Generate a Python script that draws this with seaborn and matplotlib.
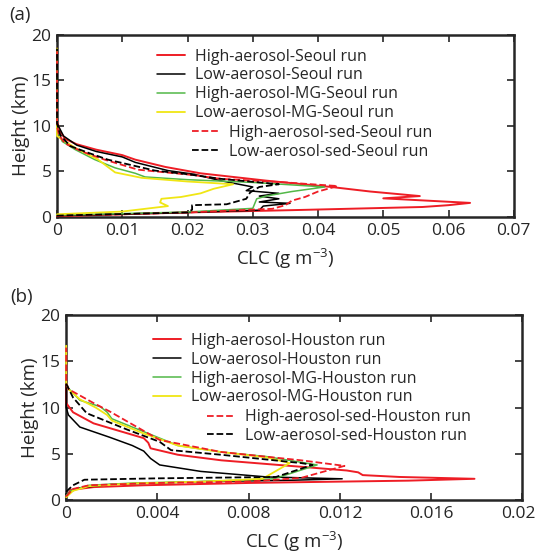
import matplotlib

matplotlib.use("Agg")
import matplotlib.pyplot as plt
import matplotlib.transforms as mtransforms
import seaborn as sns

# Panel (a): Seoul runs, CLC (g m-3) versus height (km)
SEOUL_HIGH_H = [0.1, 0.5, 0.77, 1.1, 1.3, 1.55, 2.05, 2.3, 2.8, 3.3, 4.0, 4.8, 5.5, 6.3, 6.8, 7.4, 8.0, 8.6, 9.5, 10.5, 18.5]
SEOUL_HIGH_CLC = [0.0, 0.020, 0.037, 0.056, 0.060, 0.0633, 0.050, 0.0556, 0.048, 0.042, 0.032, 0.022, 0.0166, 0.012, 0.010, 0.006, 0.003, 0.0012, 0.0004, 0.0, 0.0]

SEOUL_LOW_H = [0.15, 0.5, 0.75, 1.2, 1.5, 1.65, 2.0, 2.3, 2.6, 2.9, 3.3, 4.0, 4.7, 5.1, 6.0, 6.6, 7.2, 7.9, 8.9, 10.3, 18.5]
SEOUL_LOW_CLC = [0.0, 0.020, 0.031, 0.0316, 0.0357, 0.031, 0.034, 0.031, 0.034, 0.029, 0.030, 0.025, 0.021, 0.017, 0.012, 0.010, 0.006, 0.003, 0.001, 0.0, 0.0]

SEOUL_HIGH_MG_H = [0.2, 0.55, 0.95, 2.0, 2.3, 2.8, 3.3, 3.8, 4.1, 4.4, 4.8, 5.4, 6.3, 7.4, 8.3, 9.3, 10.0, 18.5]
SEOUL_HIGH_MG_CLC = [0.0, 0.020, 0.030, 0.0306, 0.032, 0.036, 0.041, 0.030, 0.020, 0.0135, 0.012, 0.0089, 0.0058, 0.0028, 0.0008, 0.0002, 0.0, 0.0]

SEOUL_LOW_MG_H = [0.3, 0.6, 1.2, 1.6, 2.0, 2.2, 2.6, 3.1, 3.6, 3.9, 4.3, 4.9, 6.3, 7.6, 8.5, 8.9, 18.5]
SEOUL_LOW_MG_CLC = [0.0, 0.010, 0.017, 0.0158, 0.016, 0.019, 0.022, 0.024, 0.027, 0.020, 0.013, 0.0089, 0.0063, 0.0028, 0.0008, 0.0, 0.0]

SEOUL_HIGH_SED_H = [0.1, 0.5, 0.9, 1.3, 1.8, 2.2, 2.8, 3.4, 3.8, 4.2, 4.6, 5.2, 6.3, 7.2, 8.1, 9.0, 10.0, 18.5]
SEOUL_HIGH_SED_CLC = [0.0, 0.020, 0.033, 0.035, 0.036, 0.038, 0.040, 0.043, 0.035, 0.025, 0.021, 0.0124, 0.0073, 0.0038, 0.0012, 0.0003, 0.0, 0.0]

SEOUL_LOW_SED_H = [0.15, 0.5, 0.8, 1.3, 1.4, 2.0, 2.7, 3.3, 3.6, 4.2, 4.7, 5.1, 5.6, 6.3, 7.0, 7.8, 9.0, 10.3, 18.5]
SEOUL_LOW_SED_CLC = [0.0, 0.020, 0.0207, 0.0207, 0.026, 0.029, 0.0296, 0.031, 0.034, 0.025, 0.020, 0.015, 0.012, 0.0078, 0.005, 0.002, 0.0005, 0.0, 0.0]

# Panel (b): Houston runs
HOUSTON_HIGH_H = [0.4, 1.1, 1.4, 1.6, 1.85, 1.95, 2.1, 2.3, 2.5, 2.7, 3.0, 3.2, 3.6, 4.3, 4.9, 5.6, 6.2, 6.7, 8.3, 9.5, 10.5, 16.0]
HOUSTON_HIGH_CLC = [0.0, 0.0002, 0.0012, 0.0034, 0.008, 0.0107, 0.015, 0.0179, 0.0146, 0.013, 0.0128, 0.0123, 0.0103, 0.0068, 0.0049, 0.0037, 0.0036, 0.0034, 0.0012, 0.0003, 0.0, 0.0]

HOUSTON_LOW_H = [0.6, 1.3, 1.7, 2.0, 2.15, 2.3, 2.5, 3.1, 3.8, 4.5, 5.3, 5.9, 6.8, 7.9, 9.2, 10.0, 15.0]
HOUSTON_LOW_CLC = [0.0, 0.0005, 0.002, 0.006, 0.010, 0.0121, 0.0088, 0.0059, 0.0041, 0.0037, 0.0034, 0.0029, 0.0019, 0.0006, 0.0001, 0.0, 0.0]

HOUSTON_HIGH_MG_H = [0.5, 1.0, 1.6, 1.85, 2.0, 2.3, 3.8, 4.7, 5.2, 5.9, 7.4, 8.8, 9.5, 10.1, 10.8, 12.1, 12.7, 16.0]
HOUSTON_HIGH_MG_CLC = [0.0, 0.0002, 0.001, 0.003, 0.006, 0.0091, 0.011, 0.0088, 0.0068, 0.0049, 0.0034, 0.002, 0.0018, 0.0015, 0.0006, 0.0001, 0.0, 0.0]

HOUSTON_LOW_MG_H = [0.3, 1.0, 1.5, 1.8, 2.0, 2.3, 4.0, 4.6, 5.2, 5.9, 7.2, 8.6, 9.2, 10.0, 10.9, 12.0, 12.7, 16.7]
HOUSTON_LOW_MG_CLC = [0.0, 0.0003, 0.001, 0.003, 0.006, 0.0086, 0.0098, 0.0088, 0.0068, 0.0049, 0.0034, 0.002, 0.0018, 0.0013, 0.0006, 0.0001, 0.0, 0.0]

HOUSTON_HIGH_SED_H = [0.4, 1.2, 1.6, 1.85, 2.0, 2.4, 3.7, 4.3, 5.2, 6.5, 9.6, 10.5, 12.0, 12.7, 16.5]
HOUSTON_HIGH_SED_CLC = [0.0, 0.0003, 0.001, 0.004, 0.008, 0.0103, 0.0122, 0.0103, 0.0068, 0.0041, 0.0019, 0.0012, 0.0001, 0.0, 0.0]

HOUSTON_LOW_SED_H = [0.9, 1.6, 2.2, 2.35, 2.5, 3.8, 4.0, 4.9, 5.4, 6.3, 7.6, 8.8, 9.4, 11.1, 12.6]
HOUSTON_LOW_SED_CLC = [0.0, 0.0003, 0.0008, 0.004, 0.0092, 0.0108, 0.0103, 0.0068, 0.0046, 0.0041, 0.0027, 0.0015, 0.0009, 0.0003, 0.0]

RUN_KINDS = ["High-aerosol", "Low-aerosol", "High-aerosol-MG", "Low-aerosol-MG", "High-aerosol-sed", "Low-aerosol-sed"]

RED = "#ee1d25"
GREEN = "#52b848"
YELLOW = "#f0e614"
STYLES = [
    (RED, "-", 1.4),
    ("black", "-", 1.1),
    (GREEN, "-", 1.1),
    (YELLOW, "-", 1.3),
    (RED, "--", 1.3),
    ("black", "--", 1.3),
]

sns.set_style("ticks")
plt.rcParams["font.family"] = ["Open Sans", "DejaVu Sans"]
plt.rcParams["mathtext.fontset"] = "custom"
plt.rcParams["mathtext.rm"] = "Open Sans"
plt.rcParams["mathtext.default"] = "rm"
plt.rcParams["axes.linewidth"] = 1.8


def draw_panel(ax, profiles, city, xmax, xticks, xticklabels, leg1_anchor, leg2_anchor):
    for (heights, clc), kind, (color, ls, lw) in zip(profiles, RUN_KINDS, STYLES):
        sns.lineplot(
            x=clc,
            y=heights,
            orient="y",
            estimator=None,
            color=color,
            linestyle=ls,
            linewidth=lw,
            label=f"{kind}-{city} run",
            zorder=3,
            clip_on=False,
            ax=ax,
        )
    if ax.get_legend() is not None:
        ax.get_legend().remove()

    ax.set_xlim(0, xmax)
    ax.set_ylim(0, 20)
    ax.set_xticks(xticks)
    ax.set_xticklabels(xticklabels)
    ax.set_yticks([0, 5, 10, 15, 20])
    ax.tick_params(
        axis="both", direction="in", top=True, right=True,
        length=5, width=1.2, labelsize=12.5, pad=4,
    )
    for spine in ax.spines.values():
        spine.set_visible(True)
        spine.set_linewidth(1.8)
    ax.set_xlabel("CLC (g m$^{-3}$)", fontsize=13.5, labelpad=6)
    ax.set_ylabel("Height (km)", fontsize=13.5, labelpad=1)

    handles, labels = ax.get_legend_handles_labels()
    legend_kw = dict(
        frameon=False, fontsize=11.5, handlelength=1.75, handletextpad=0.6,
        labelspacing=0.18, borderpad=0, borderaxespad=0, loc="upper left",
    )
    first = ax.legend(handles[:4], labels[:4], bbox_to_anchor=leg1_anchor, **legend_kw)
    ax.add_artist(first)
    ax.legend(handles[4:], labels[4:], bbox_to_anchor=leg2_anchor, **legend_kw)


fig = plt.figure(figsize=(5.38, 5.55), dpi=100)
ax_a = fig.add_axes([0.106, 0.609, 0.849, 0.328])
ax_b = fig.add_axes([0.123, 0.099, 0.848, 0.333])

seoul = [
    (SEOUL_HIGH_H, SEOUL_HIGH_CLC),
    (SEOUL_LOW_H, SEOUL_LOW_CLC),
    (SEOUL_HIGH_MG_H, SEOUL_HIGH_MG_CLC),
    (SEOUL_LOW_MG_H, SEOUL_LOW_MG_CLC),
    (SEOUL_HIGH_SED_H, SEOUL_HIGH_SED_CLC),
    (SEOUL_LOW_SED_H, SEOUL_LOW_SED_CLC),
]
houston = [
    (HOUSTON_HIGH_H, HOUSTON_HIGH_CLC),
    (HOUSTON_LOW_H, HOUSTON_LOW_CLC),
    (HOUSTON_HIGH_MG_H, HOUSTON_HIGH_MG_CLC),
    (HOUSTON_LOW_MG_H, HOUSTON_LOW_MG_CLC),
    (HOUSTON_HIGH_SED_H, HOUSTON_HIGH_SED_CLC),
    (HOUSTON_LOW_SED_H, HOUSTON_LOW_SED_CLC),
]

draw_panel(
    ax_a, seoul, "Seoul", 0.07,
    [0, 0.01, 0.02, 0.03, 0.04, 0.05, 0.06, 0.07],
    ["0", "0.01", "0.02", "0.03", "0.04", "0.05", "0.06", "0.07"],
    (0.219, 0.925), (0.295, 0.505),
)
draw_panel(
    ax_b, houston, "Houston", 0.02,
    [0, 0.004, 0.008, 0.012, 0.016, 0.02],
    ["0", "0.004", "0.008", "0.012", "0.016", "0.02"],
    (0.191, 0.905), (0.309, 0.492),
)

# keep the last tick label of panel (b) inside the figure edge
last_label = ax_b.get_xticklabels()[-1]
last_label.set_transform(
    last_label.get_transform()
    + mtransforms.ScaledTranslation(-0.04, 0, fig.dpi_scale_trans)
)

fig.text(0.037, 0.973, "(a)", fontsize=13.5, ha="center", va="center")
fig.text(0.041, 0.465, "(b)", fontsize=13.5, ha="center", va="center")

fig.savefig("out.png", dpi=100)
plt.close(fig)
